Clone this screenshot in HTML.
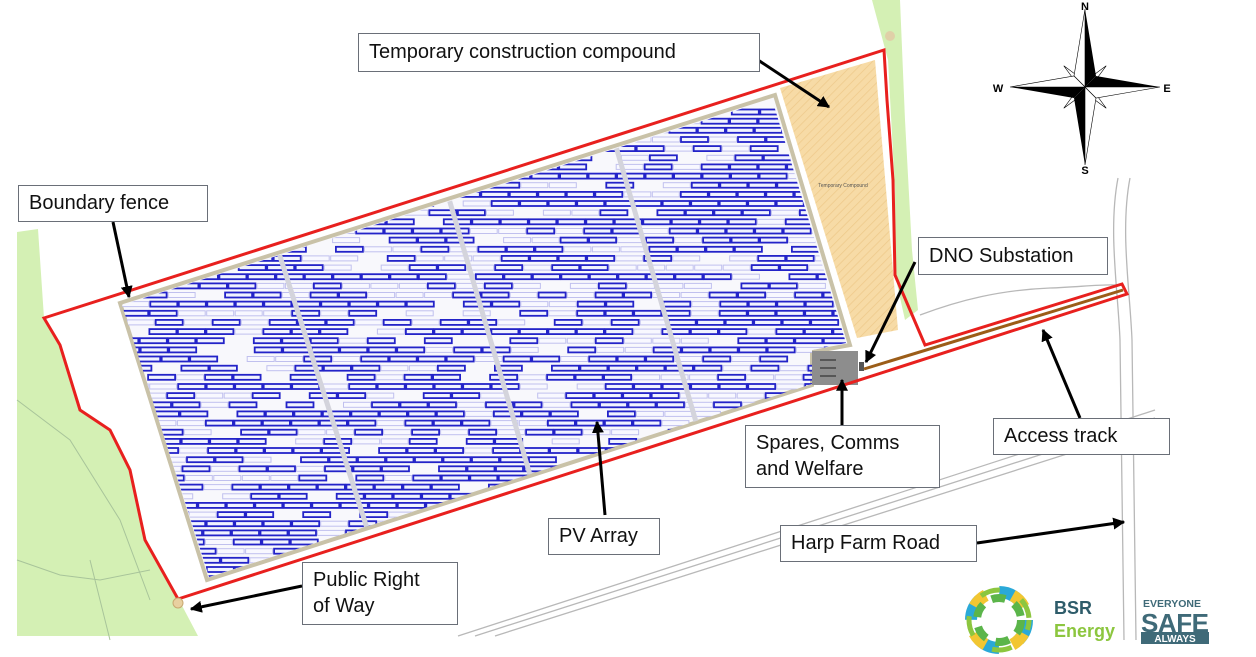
<!DOCTYPE html>
<html><head><meta charset="utf-8"><style>
html,body{margin:0;padding:0;background:#fff;}
body{width:1256px;height:657px;position:relative;overflow:hidden;font-family:"Century Gothic","URW Gothic","Liberation Sans",sans-serif;}
.lb{position:absolute;background:#fff;border:1.5px solid #6a6f78;font-size:20px;color:#111;padding:0 10px;box-sizing:border-box;line-height:26px;}
svg{position:absolute;left:0;top:0;}
</style></head><body>
<svg id="s" width="1256" height="657" viewBox="0 0 1256 657">
<defs>
<pattern id="hatch" width="6" height="6" patternUnits="userSpaceOnUse" patternTransform="rotate(45)">
<rect width="6" height="6" fill="#f7dba6"/><line x1="0" y1="0" x2="0" y2="6" stroke="#eec98a" stroke-width="1.5"/></pattern>
<clipPath id="arr"><polygon points="122,305 772,99 846,343 812,350 812,384 209,577"/></clipPath>
</defs>
<polygon points="17,232 38,229 44,318 60,345 80,410 110,430 130,470 145,540 178,598 198,636 17,636" fill="#d4f0b4"/>
<polygon points="872,0 900,0 905,120 912,250 918,310 905,320 895,275 895,190 888,60" fill="#d4f0b4"/>
<path d="M17,400 L70,440 L120,520 L150,600 M17,560 L60,575 L100,580 L150,570 M90,560 L110,640" stroke="#a8c49a" fill="none" stroke-width="1"/>
<g stroke="#b8b8b8" stroke-width="1.3" fill="none">
<line x1="458" y1="636" x2="1155" y2="410"/><line x1="475" y1="636" x2="1155" y2="418"/><line x1="495" y1="636" x2="1155" y2="426"/>
<path d="M1118,178 C1108,230 1118,290 1120,340 L1124,640"/><path d="M1130,178 C1120,230 1130,290 1132,340 L1136,640"/>
<path d="M920,315 C960,300 1000,290 1050,288 1080,287 1100,284 1118,285"/>
</g>
<polygon points="780,88 875,60 898,330 857,338" fill="url(#hatch)"/>
<text x="843" y="187" font-size="5" font-family="Liberation Sans" fill="#555" text-anchor="middle">Temporary Compound</text>
<polygon points="120,303 775,95 850,345 812,352 812,385 207,580" fill="#f8f8fc" stroke="#c9c2a8" stroke-width="4"/>
<g id="rows" clip-path="url(#arr)"></g>
<g stroke="#d4d4dc" stroke-width="5" clip-path="url(#arr)">
<line x1="262" y1="200" x2="390" y2="600"/><line x1="420" y1="100" x2="555" y2="560"/><line x1="585" y1="40" x2="710" y2="470"/>
</g>
<rect x="812" y="351" width="46" height="34" fill="#8d8d8d"/>
<g stroke="#333" stroke-width="1.2"><line x1="820" y1="360" x2="836" y2="360"/><line x1="820" y1="368" x2="836" y2="368"/><line x1="820" y1="376" x2="836" y2="376"/></g>
<rect x="859" y="362" width="5" height="9" fill="#555"/>
<line x1="864" y1="369" x2="1123" y2="290" stroke="#9b5d18" stroke-width="3"/>
<polygon points="44,318 884,50 887,100 893,180 895,275 925,345 1122,284 1127,294 178,599 145,540 130,470 110,430 80,410 60,345" fill="none" stroke="#e8201e" stroke-width="3"/>
<circle cx="178" cy="603" r="5" fill="#e8d0a0" stroke="#c8a870"/>
<circle cx="890" cy="36" r="5" fill="#e0d0a8"/>
<g transform="translate(1085,87)">
<g transform="rotate(45)"><polygon points="0,-30 4,-4 0,0 -4,-4" fill="#fff" stroke="#000" stroke-width=".6"/><polygon points="0,30 4,4 0,0 -4,4" fill="#fff" stroke="#000" stroke-width=".6"/><polygon points="-30,0 -4,4 0,0 -4,-4" fill="#fff" stroke="#000" stroke-width=".6"/><polygon points="30,0 4,4 0,0 4,-4" fill="#fff" stroke="#000" stroke-width=".6"/></g>
<polygon points="0,-78 11,-11 0,0" fill="#000"/><polygon points="0,-78 -11,-11 0,0" fill="#fff" stroke="#000" stroke-width=".6"/>
<polygon points="0,78 -11,11 0,0" fill="#000"/><polygon points="0,78 11,11 0,0" fill="#fff" stroke="#000" stroke-width=".6"/>
<polygon points="-75,0 -11,11 0,0" fill="#000"/><polygon points="-75,0 -11,-11 0,0" fill="#fff" stroke="#000" stroke-width=".6"/>
<polygon points="75,0 11,-11 0,0" fill="#000"/><polygon points="75,0 11,11 0,0" fill="#fff" stroke="#000" stroke-width=".6"/>
<text x="0" y="-77" font-size="11" font-weight="bold" font-family="Liberation Sans" text-anchor="middle">N</text>
<text x="0" y="87" font-size="11" font-weight="bold" font-family="Liberation Sans" text-anchor="middle">S</text>
<text x="-87" y="5" font-size="11" font-weight="bold" font-family="Liberation Sans" text-anchor="middle">W</text>
<text x="82" y="5" font-size="11" font-weight="bold" font-family="Liberation Sans" text-anchor="middle">E</text>
</g>
<defs><marker id="a2" viewBox="0 0 10 10" markerWidth="12" markerHeight="12" refX="9" refY="5" orient="auto" markerUnits="userSpaceOnUse"><path d="M0,0 L10,5 L0,10z" fill="#000"/></marker></defs>
<g stroke="#000" stroke-width="3" marker-end="url(#a2)" fill="none">
<line x1="755" y1="58" x2="829" y2="107"/>
<line x1="113" y1="222" x2="129" y2="297"/>
<line x1="915" y1="262" x2="866" y2="362"/>
<line x1="842" y1="425" x2="842" y2="380"/>
<line x1="1080" y1="418" x2="1043" y2="330"/>
<line x1="605" y1="515" x2="597" y2="422"/>
<line x1="977" y1="543" x2="1124" y2="522"/>
<line x1="302" y1="586" x2="191" y2="609"/>
</g>
<g transform="translate(999,620)">
<circle r="28" fill="none" stroke="#2aa9d8" stroke-width="12" stroke-dasharray="22 22"/>
<circle r="28" fill="none" stroke="#f2c632" stroke-width="12" stroke-dasharray="16 28" stroke-dashoffset="30"/>
<circle r="22" fill="none" stroke="#5bb54a" stroke-width="8" stroke-dasharray="14 10"/>
<circle r="30" fill="none" stroke="#8cc63f" stroke-width="5" stroke-dasharray="20 24" stroke-dashoffset="10"/>
</g>
<text x="1054" y="614" font-family="Liberation Sans" font-weight="bold" font-size="18" fill="#2e5c6a">BSR</text>
<text x="1054" y="637" font-family="Liberation Sans" font-weight="bold" font-size="18" fill="#8cc63f">Energy</text>
<text x="1143" y="607" font-family="Liberation Sans" font-weight="bold" font-size="10.5" fill="#3f6a78">EVERYONE</text>
<text x="1141" y="632" font-family="Liberation Sans" font-weight="bold" font-size="26" fill="#3f6a78" textLength="68">SAFE</text>
<rect x="1141" y="632" width="68" height="12" fill="#3f6a78"/>
<text x="1175" y="642" font-family="Liberation Sans" font-weight="bold" font-size="10" fill="#fff" text-anchor="middle">ALWAYS</text>
</svg>
<div class="lb" style="left:358px;top:33px;width:402px;height:39px;line-height:37px;">Temporary construction compound</div>
<div class="lb" style="left:18px;top:185px;width:190px;height:37px;line-height:35px;">Boundary fence</div>
<div class="lb" style="left:918px;top:237px;width:190px;height:38px;line-height:36px;">DNO Substation</div>
<div class="lb" style="left:745px;top:425px;width:195px;height:63px;padding-top:4px;">Spares, Comms<br>and Welfare</div>
<div class="lb" style="left:993px;top:418px;width:177px;height:37px;line-height:35px;">Access track</div>
<div class="lb" style="left:548px;top:518px;width:112px;height:37px;line-height:35px;">PV Array</div>
<div class="lb" style="left:780px;top:525px;width:197px;height:37px;line-height:35px;">Harp Farm Road</div>
<div class="lb" style="left:302px;top:562px;width:156px;height:63px;padding-top:4px;">Public Right<br>of Way</div>
<script>
(function(){
var g=document.getElementById('rows'),seed=7;
function r(){seed=(seed*9301+49297)%233280;return seed/233280;}
var h='';
for(var y=112;y<580;y+=9.15){
  var off=(r()*28);
  for(var x=90-off;x<870;x+=28.5){
    var q=r();
    if(q<0.62)h+='<rect x="'+x.toFixed(1)+'" y="'+(y-2.5).toFixed(1)+'" width="27" height="5" fill="#f0f2ff" stroke="#2323c8" stroke-width="1.8"/>';
    else if(q<0.9)h+='<rect x="'+x.toFixed(1)+'" y="'+(y-2.5).toFixed(1)+'" width="27" height="5" fill="#f8f8ff" stroke="#c0c0ee" stroke-width="1"/>';
  }
}
g.innerHTML=h;
})();
</script>
</body></html>
